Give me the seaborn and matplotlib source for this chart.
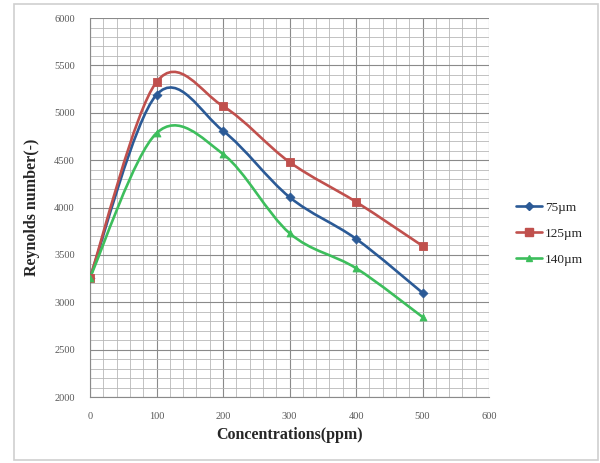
import numpy as np
import pandas as pd
import seaborn as sns
import matplotlib.pyplot as plt
from matplotlib.path import Path
from matplotlib.patches import PathPatch, Rectangle
from matplotlib.lines import Line2D
from matplotlib.ticker import MultipleLocator

concentrations = [0, 100, 200, 300, 400, 500]
re_75 = [3260, 5190, 4810, 4110, 3670, 3100]
re_125 = [3260, 5325, 5070, 4480, 4060, 3595]
re_140 = [3260, 4785, 4565, 3730, 3360, 2845]
series_labels = ["75µm", "125µm", "140µm"]

colors = {"75µm": "#2B5A96", "125µm": "#C0504D", "140µm": "#3DBE5C"}
markers = {"75µm": "D", "125µm": "s", "140µm": "^"}
marker_sizes = {"75µm": 4.5, "125µm": 6.0, "140µm": 5.0}


def smooth_path(x, y):
    # Excel-style smoothed line: cubic bezier segments (catmull-rom control points)
    pts = np.column_stack([x, y]).astype(float)
    n = len(pts)
    verts = [pts[0]]
    codes = [Path.MOVETO]
    for i in range(n - 1):
        p0 = pts[max(i - 1, 0)]
        p1 = pts[i]
        p2 = pts[i + 1]
        p3 = pts[min(i + 2, n - 1)]
        verts += [p1 + (p2 - p0) / 6, p2 - (p3 - p1) / 6, p2]
        codes += [Path.CURVE4] * 3
    return Path(verts, codes)


df = pd.DataFrame({
    "conc": concentrations * 3,
    "re": re_75 + re_125 + re_140,
    "size": np.repeat(series_labels, len(concentrations)),
})

sns.set_style("white")
plt.rcParams["font.family"] = ["Liberation Serif", "DejaVu Serif"]

fig = plt.figure(figsize=(6.0, 4.63), dpi=100)
ax = fig.add_axes([0.15, 0.1425, 0.665, 0.8185])

for label, vals in zip(series_labels, [re_75, re_125, re_140]):
    patch = PathPatch(smooth_path(concentrations, vals), facecolor="none",
                      edgecolor=colors[label], lw=1.9, zorder=3)
    ax.add_patch(patch)

for label in series_labels:
    sub = df[df["size"] == label]
    sns.scatterplot(data=sub, x="conc", y="re", marker=markers[label],
                    color=colors[label], s=marker_sizes[label] ** 2,
                    edgecolor=colors[label], linewidth=0.6, zorder=4,
                    legend=False, ax=ax)

ax.set_xlim(0, 600)
ax.set_ylim(2000, 6000)
ax.xaxis.set_major_locator(MultipleLocator(100))
ax.xaxis.set_minor_locator(MultipleLocator(20))
ax.yaxis.set_major_locator(MultipleLocator(500))
ax.yaxis.set_minor_locator(MultipleLocator(100))
ax.grid(which="major", color="#8a8a8a", lw=0.8)
ax.grid(which="minor", color="#b8b8b8", lw=0.6)
ax.set_axisbelow(True)

for side in ["top", "right"]:
    ax.spines[side].set_visible(False)
for side in ["left", "bottom"]:
    ax.spines[side].set_color("#8a8a8a")
    ax.spines[side].set_linewidth(0.8)

ax.tick_params(axis="both", which="major", labelsize=7.5, labelcolor="#595959",
               length=3, color="#8a8a8a", pad=8)
ax.tick_params(axis="both", which="minor", length=0)

ax.set_xlabel("Concentrations(ppm)", fontsize=11.5, fontweight="bold", labelpad=4)
ax.set_ylabel("Reynolds number(-)", fontsize=11.5, fontweight="bold", labelpad=10)

handles = [Line2D([0], [0], color=colors[l], lw=1.9, marker=markers[l],
                  markersize=marker_sizes[l]) for l in series_labels]
fig.legend(handles, series_labels, loc="center left",
           bbox_to_anchor=(0.84, 0.495), frameon=False, fontsize=9.5,
           handlelength=2.0, handletextpad=0.2, labelspacing=1.05)

fig.patches.append(Rectangle((14 / 600, 3 / 463), 584 / 600, 456 / 463,
                             transform=fig.transFigure, fill=False,
                             edgecolor="#cfcfcf", lw=1.2))

fig.savefig("out.png", dpi=100)
